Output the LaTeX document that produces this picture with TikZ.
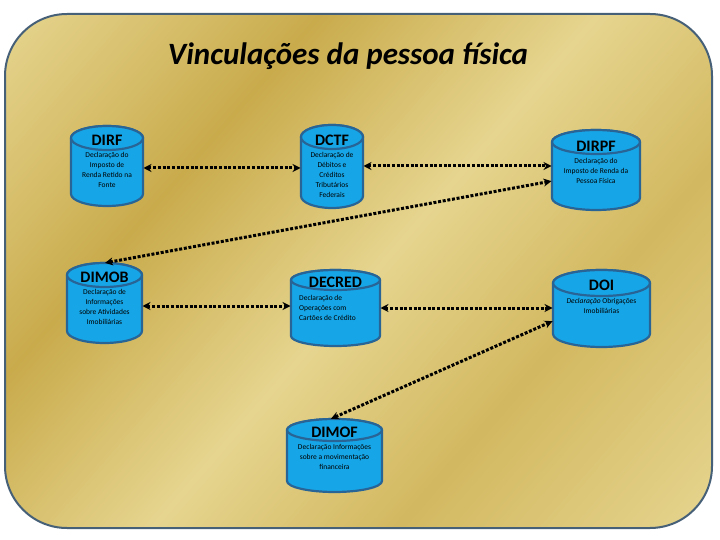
\documentclass[tikz,border=0pt]{standalone}
\usepackage{fontspec}
\setmainfont{Carlito}
\usetikzlibrary{arrows.meta}
\definecolor{goldlight}{RGB}{230,213,143}
\definecolor{golddark}{RGB}{201,171,76}
\definecolor{goldmid}{RGB}{210,184,96}
\definecolor{framecol}{RGB}{70,96,120}
\definecolor{cylfill}{RGB}{22,166,232}
\definecolor{cyldraw}{RGB}{40,100,150}
\pgfdeclarehorizontalshading{goldsh}{100bp}{color(0bp)=(goldlight); color(15bp)=(goldlight); color(34bp)=(golddark); color(51bp)=(goldlight); color(66bp)=(goldmid); color(85bp)=(goldlight); color(100bp)=(goldlight)}
\tikzset{
  cylst/.style={draw=cyldraw, fill=cylfill, line width=2.2pt},
  cylanchor/.style={draw=none, inner sep=0pt, outer sep=0pt},
  cyltitle/.style={font=\fontsize{16}{16}\selectfont\bfseries, text=black},
  cyldesc/.style={font=\fontsize{7.5}{10}\selectfont, align=center, text=black, inner sep=0pt},
  link/.style={line width=3pt, dash pattern=on 3pt off 1.7pt, {Stealth[length=8pt,width=8pt]}-{Stealth[length=8pt,width=8pt]}, shorten <=0.5pt, shorten >=0.5pt}
}
% name, cx, rx, top, bottom, ry
\newcommand\drawcyl[6]{%
  \node[cylanchor, minimum width={2*#3pt}, minimum height={(#5-#4)*1pt}, anchor=north] (#1) at (#2,#4) {};
  \draw[cylst] (#2-#3,#5-#6) arc[start angle=180,end angle=360,x radius=#3pt,y radius=#6pt] -- (#2+#3,#4+#6) arc[start angle=0,end angle=180,x radius=#3pt,y radius=#6pt] -- cycle;
  \draw[cylst] (#2,#4+#6) ellipse[x radius=#3pt, y radius=#6pt];
}
\begin{document}
\begin{tikzpicture}[x=1pt,y=-1pt]
\useasboundingbox (0,0) rectangle (720,540);
\fill[white] (0,0) rectangle (720,540);
\shade[shading=goldsh, shading angle=-41, rounded corners=62pt] (5,14) rectangle (712,528);
\draw[framecol, line width=2pt, rounded corners=62pt] (5,14) rectangle (712,528);

\node[font=\fontsize{31}{31}\selectfont\bfseries\itshape] (title) at (348,56) {Vinculações da pessoa física};

\drawcyl{dirf}{107}{36}{126}{206}{12}
\drawcyl{dctf}{332}{31}{125}{208}{12}
\drawcyl{dirpf}{596}{44}{130}{210}{12}
\drawcyl{dimob}{104.5}{37.5}{263}{343}{12}
\drawcyl{decred}{335.5}{44.5}{270}{346}{10}
\drawcyl{doi}{601.5}{48.5}{270}{347}{13}
\drawcyl{dimof}{334.5}{47.5}{419}{492}{11}

\node[cyltitle] (tdirf) at (107,140) {DIRF};
\node[cyltitle] (tdctf) at (332,140) {DCTF};
\node[cyltitle] (tdirpf) at (596,146) {DIRPF};
\node[cyltitle] (tdimob) at (104.5,277) {DIMOB};
\node[cyltitle] (tdecred) at (335.5,282) {DECRED};
\node[cyltitle] (tdoi) at (601.5,285) {DOI};
\node[cyltitle] (tdimof) at (334.5,432) {DIMOF};

\node[cyldesc] (ddirf) at (107,170) {Declaração do\\Imposto de\\Renda Retido na\\Fonte};
\node[cyldesc] (ddctf) at (332,175) {Declaração de\\Débitos e\\Créditos\\Tributários\\Federais};
\node[cyldesc] (ddirpf) at (596,171) {Declaração do\\Imposto de Renda da\\Pessoa Física};
\node[cyldesc] (ddimob) at (104.5,307) {Declaração de\\Informações\\sobre Atividades\\Imobiliárias};
\node[cyldesc, align=left, anchor=west] (ddecred) at (299,308) {Declaração de\\Operações com\\Cartões de Crédito};
\node[cyldesc] (ddoi) at (601.5,306) {\textit{Declaração} Obrigações\\Imobiliárias};
\node[cyldesc] (ddimof) at (334.5,457) {Declaração Informações\\sobre a movimentação\\financeira};

\draw[link] (dirf.east |- 0,168) -- (dctf.west |- 0,168);
\draw[link] (dctf.east |- 0,166) -- (dirpf.west |- 0,166);
\draw[link] (dimob.north) -- (dirpf.west |- 0,181);
\draw[link] (dimob.east |- 0,306) -- (decred.west |- 0,306);
\draw[link] (decred.east |- 0,308) -- (doi.west |- 0,308);
\draw[link] ([xshift=-4pt]dimof.north) -- (doi.west |- 0,321);
\end{tikzpicture}
\end{document}
